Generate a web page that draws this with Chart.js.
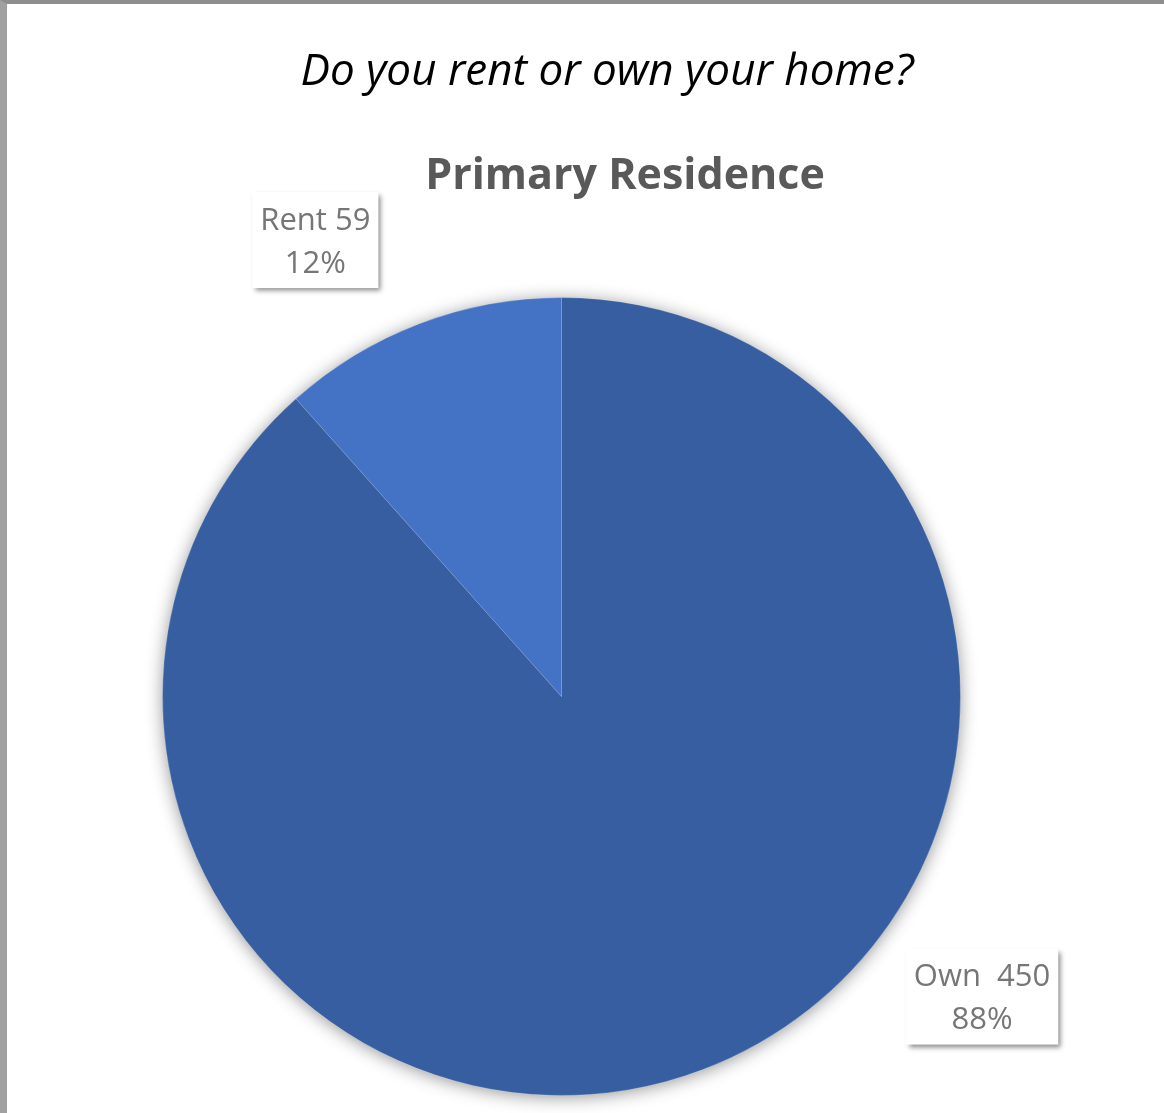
<!DOCTYPE html>
<html>
<head>
<meta charset="utf-8">
<script src="https://cdn.jsdelivr.net/npm/chart.js@4/dist/chart.umd.min.js"></script>
<style>
  html, body { margin: 0; padding: 0; background: #fff; }
  .frame {
    position: absolute; left: 0; top: 0; width: 1157px; height: 1109px;
    border-top: 4px solid #8e8e8e; border-left: 7px solid #a0a0a0; background: #fff;
  }
  canvas { display: block; }
</style>
</head>
<body>
<div class="frame"><canvas id="chart" width="1157" height="1109"></canvas></div>
<script>
const categories = ['Own', 'Rent'];
const counts = [450, 59];
const sliceColors = ['#365ea0', '#4472c4'];

// gap between the name and the count in each data label
const nameGaps = ['  ', ' '];
// label box centres, as multiples of the pie radius from its centre
const labelSpots = [[1.054, 0.752], [-0.617, -1.144]];

const FONT = '"Open Sans", "Noto Sans", sans-serif';

// soft glow under the whole pie
const pieShadow = {
  id: 'pieShadow',
  beforeDatasetsDraw(chart) {
    const arc = chart.getDatasetMeta(0).data[0];
    if (!arc) return;
    const { ctx } = chart;
    ctx.save();
    ctx.shadowColor = 'rgba(0,0,0,0.45)';
    ctx.shadowBlur = 18;
    ctx.shadowOffsetY = 2;
    ctx.fillStyle = sliceColors[0];
    ctx.beginPath();
    ctx.arc(arc.x, arc.y, arc.outerRadius - 1, 0, Math.PI * 2);
    ctx.fill();
    ctx.restore();
  },
};

// question heading and chart title
const headings = {
  id: 'headings',
  afterDraw(chart) {
    const { ctx } = chart;
    ctx.save();
    ctx.textAlign = 'center';
    ctx.textBaseline = 'alphabetic';
    ctx.fillStyle = '#000';
    ctx.font = `italic 44px ${FONT}`;
    ctx.fillText('Do you rent or own your home?', 600, 81);
    ctx.fillStyle = '#595959';
    ctx.font = `bold 43px ${FONT}`;
    ctx.fillText('Primary Residence', 618, 185);
    ctx.restore();
  },
};

// boxed data labels: "name count" over "percent"
const boxLabels = {
  id: 'boxLabels',
  afterDatasetsDraw(chart) {
    const { ctx } = chart;
    const meta = chart.getDatasetMeta(0);
    const total = counts.reduce((a, b) => a + b, 0);
    ctx.save();
    ctx.font = `31px ${FONT}`;
    meta.data.forEach((arc, i) => {
      const line1 = categories[i] + nameGaps[i] + counts[i];
      const line2 = Math.round((counts[i] / total) * 100) + '%';
      const w = Math.max(ctx.measureText(line1).width, ctx.measureText(line2).width) + 16;
      const h = 96;
      const cx = arc.x + labelSpots[i][0] * arc.outerRadius;
      const cy = arc.y + labelSpots[i][1] * arc.outerRadius;

      ctx.save();
      ctx.shadowColor = 'rgba(0,0,0,0.45)';
      ctx.shadowBlur = 5;
      ctx.shadowOffsetX = 3;
      ctx.shadowOffsetY = 3;
      ctx.fillStyle = '#fff';
      ctx.fillRect(cx - w / 2, cy - h / 2, w, h);
      ctx.restore();

      ctx.fillStyle = '#767676';
      ctx.textAlign = 'center';
      ctx.textBaseline = 'middle';
      ctx.fillText(line1, cx, cy - 19);
      ctx.fillText(line2, cx, cy + 24);
    });
    ctx.restore();
  },
};

new Chart(document.getElementById('chart'), {
  type: 'pie',
  data: {
    labels: categories,
    datasets: [{
      data: counts,
      backgroundColor: sliceColors,
      borderColor: 'rgba(255,255,255,0.22)',
      borderWidth: 1,
    }],
  },
  options: {
    responsive: false,
    animation: false,
    layout: { padding: { top: 293, bottom: 17, left: 155, right: 203 } },
    plugins: {
      legend: { display: false },
      tooltip: { enabled: false },
    },
  },
  plugins: [pieShadow, boxLabels, headings],
});
</script>
</body>
</html>
